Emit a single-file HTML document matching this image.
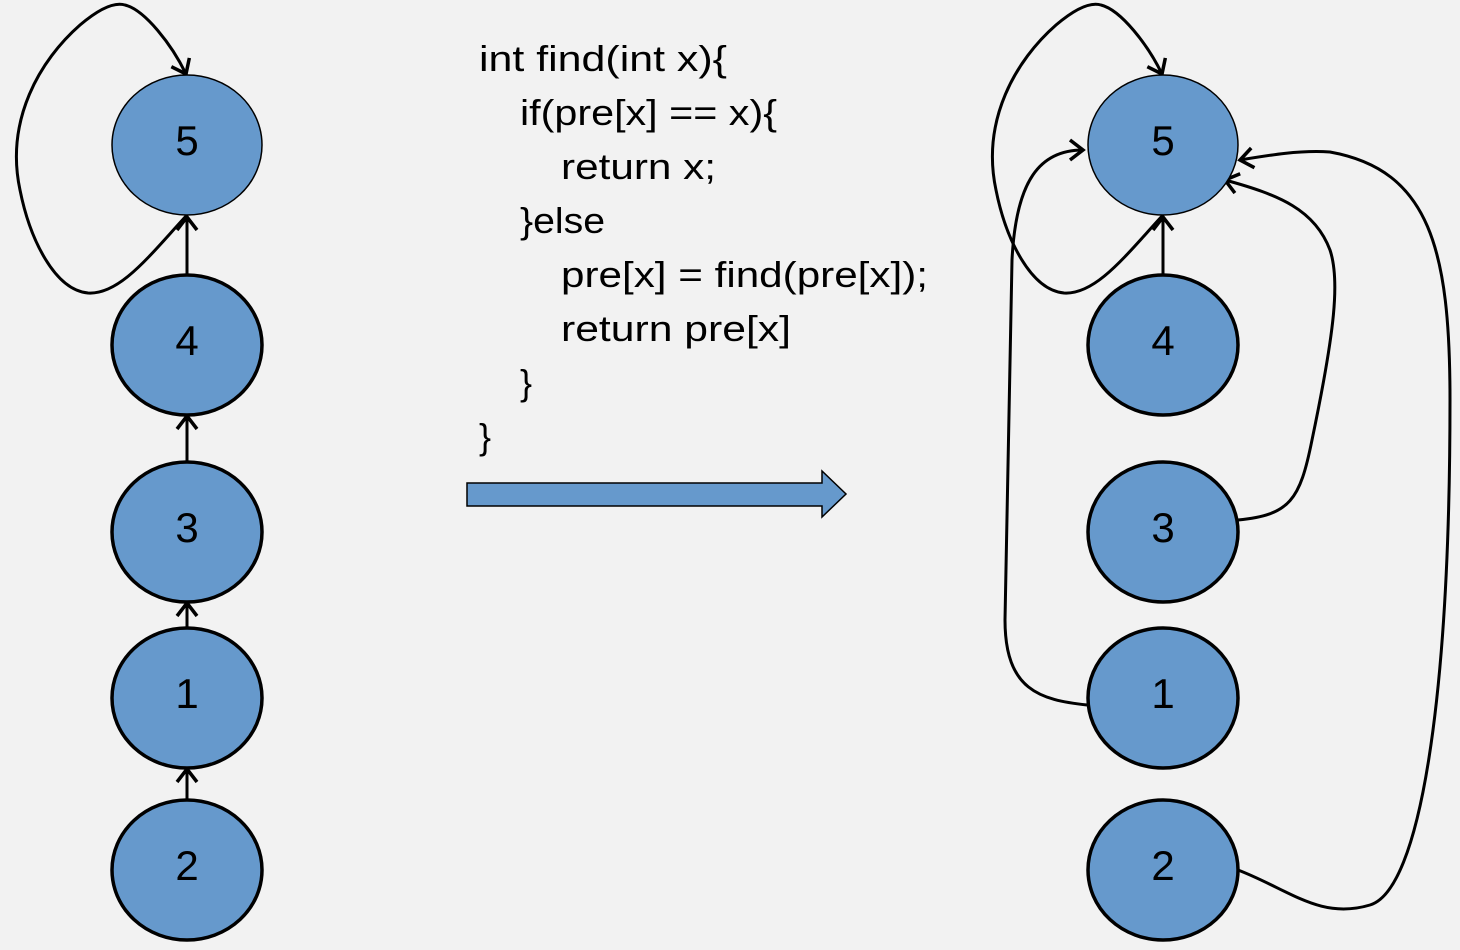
<!DOCTYPE html>
<html><head><meta charset="utf-8"><style>
html,body{margin:0;padding:0;background:#f2f2f2;}
svg{display:block}
</style></head><body>
<svg width="1460" height="950" viewBox="0 0 1460 950" xmlns="http://www.w3.org/2000/svg">
<defs>
<marker id="a" markerWidth="30" markerHeight="30" refX="22" refY="15" orient="auto" markerUnits="userSpaceOnUse">
<polyline points="9,5 22,15 9,25" fill="none" stroke="#000" stroke-width="3.5"/>
</marker>
</defs>
<rect width="1460" height="950" fill="#f2f2f2"/>
<g fill="none" stroke="#000" stroke-width="3">
<path d="M187,215 C150,255 120,295 88,293 C55,290 30,240 20,190 C5,120 40,60 80,25 C100,8 115,2 125,5 C145,10 172,45 186,74" marker-end="url(#a)"/>
<line x1="187" y1="275" x2="187" y2="217" marker-end="url(#a)"/>
<line x1="187" y1="462" x2="187" y2="416" marker-end="url(#a)"/>
<line x1="187" y1="628" x2="187" y2="603" marker-end="url(#a)"/>
<line x1="187" y1="800" x2="187" y2="769" marker-end="url(#a)"/>
<path d="M1163,215 C1126,255 1096,295 1064,293 C1031,290 1006,240 996,190 C981,120 1016,60 1056,25 C1076,8 1091,2 1101,5 C1121,10 1148,45 1162,74" marker-end="url(#a)"/>
<line x1="1163" y1="275" x2="1163" y2="217" marker-end="url(#a)"/>
<path d="M1087,705 C1040,700 1005,690 1005,620 L1012,260 C1016,180 1040,150 1083,150" marker-end="url(#a)"/>
<path d="M1238,520 C1290,515 1300,500 1312,440 C1335,330 1340,280 1330,250 C1315,210 1280,195 1225,180" marker-end="url(#a)"/>
<path d="M1238,870 C1290,890 1320,920 1370,905 C1420,890 1450,700 1450,400 C1450,250 1430,170 1330,152 C1300,150 1270,155 1240,160" marker-end="url(#a)"/>
</g>
<g fill="#6699cc" stroke="#000">
<ellipse cx="187" cy="145" rx="75" ry="70" stroke-width="1.5"/>
<ellipse cx="187" cy="345" rx="75" ry="70" stroke-width="3.5"/>
<ellipse cx="187" cy="532" rx="75" ry="70" stroke-width="3.5"/>
<ellipse cx="187" cy="698" rx="75" ry="70" stroke-width="3.5"/>
<ellipse cx="187" cy="870" rx="75" ry="70" stroke-width="3.5"/>
<ellipse cx="1163" cy="145" rx="75" ry="70" stroke-width="1.5"/>
<ellipse cx="1163" cy="345" rx="75" ry="70" stroke-width="3.5"/>
<ellipse cx="1163" cy="532" rx="75" ry="70" stroke-width="3.5"/>
<ellipse cx="1163" cy="698" rx="75" ry="70" stroke-width="3.5"/>
<ellipse cx="1163" cy="870" rx="75" ry="70" stroke-width="3.5"/>
</g>
<g font-family="Liberation Sans, sans-serif" font-size="42" text-anchor="middle" fill="#000">
<text x="187" y="155">5</text><text x="187" y="355">4</text><text x="187" y="542">3</text><text x="187" y="708">1</text><text x="187" y="880">2</text>
<text x="1163" y="155">5</text><text x="1163" y="355">4</text><text x="1163" y="542">3</text><text x="1163" y="708">1</text><text x="1163" y="880">2</text>
</g>
<g font-family="Liberation Sans, sans-serif" font-size="36" fill="#000">
<text x="479" y="71" textLength="248" lengthAdjust="spacingAndGlyphs">int find(int x){</text>
<text x="520" y="125" textLength="257" lengthAdjust="spacingAndGlyphs">if(pre[x] == x){</text>
<text x="561" y="179" textLength="155" lengthAdjust="spacingAndGlyphs">return x;</text>
<text x="520" y="233" textLength="85" lengthAdjust="spacingAndGlyphs">}else</text>
<text x="561" y="287" textLength="367" lengthAdjust="spacingAndGlyphs">pre[x] = find(pre[x]);</text>
<text x="561" y="341" textLength="230" lengthAdjust="spacingAndGlyphs">return pre[x]</text>
<text x="520" y="395">}</text>
<text x="479" y="449">}</text>
</g>
<polygon points="467,483 822,483 822,471 846,494 822,517 822,506 467,506" fill="#6699cc" stroke="#000" stroke-width="1.5"/>
</svg>
</body></html>
